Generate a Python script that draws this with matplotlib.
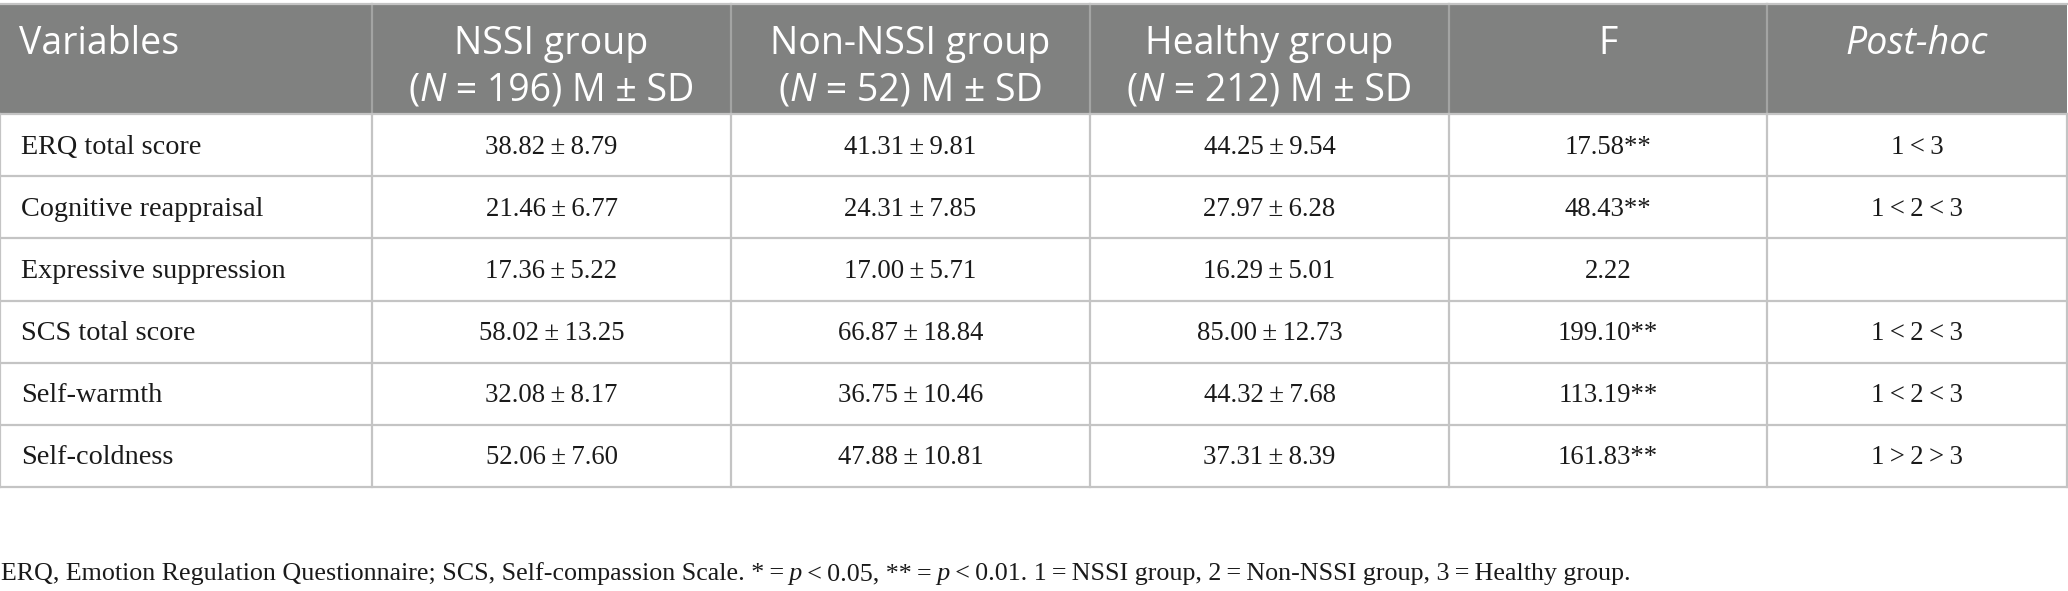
import matplotlib
matplotlib.use('Agg')
import matplotlib.pyplot as plt
from matplotlib.patches import Rectangle

# table content
variables = ['ERQ total score', 'Cognitive reappraisal', 'Expressive suppression',
             'SCS total score', 'Self-warmth', 'Self-coldness']
nssi_mean = [38.82, 21.46, 17.36, 58.02, 32.08, 52.06]
nssi_sd = [8.79, 6.77, 5.22, 13.25, 8.17, 7.60]
non_nssi_mean = [41.31, 24.31, 17.00, 66.87, 36.75, 47.88]
non_nssi_sd = [9.81, 7.85, 5.71, 18.84, 10.46, 10.81]
healthy_mean = [44.25, 27.97, 16.29, 85.00, 44.32, 37.31]
healthy_sd = [9.54, 6.28, 5.01, 12.73, 7.68, 8.39]
f_values = [17.58, 48.43, 2.22, 199.10, 113.19, 161.83]
f_sig = ['**', '**', '', '**', '**', '**']
post_hoc = ['1 < 3', '1 < 2 < 3', '', '1 < 2 < 3', '1 < 2 < 3', '1 > 2 > 3']

group_names = ['NSSI group', 'Non-NSSI group', 'Healthy group']
group_n = [196, 52, 212]

footnote = [
    ('ERQ, Emotion Regulation Questionnaire; SCS, Self-compassion Scale. *\u2009=', 'normal'),
    ('\u2009p', 'italic'),
    ('\u2009<\u20090.05, **\u2009=', 'normal'),
    ('\u2009p', 'italic'),
    ('\u2009<\u20090.01. 1\u2009=\u2009NSSI group, 2\u2009=\u2009Non-NSSI group, 3\u2009=\u2009Healthy group.', 'normal'),
]

# layout (pixels)
W, H = 2068, 591
col_edges = [0, 372, 731, 1090, 1449, 1767, 2067]
head_top, head_bot, table_bot = 4, 114, 487

header_bg = '#808180'
header_sep = '#a3a4a3'
grid = '#c4c4c4'
sans = ['Open Sans', 'DejaVu Sans']
serif = ['Liberation Serif', 'DejaVu Serif']

fig = plt.figure(figsize=(W / 100, H / 100), dpi=100)
ax = fig.add_axes([0, 0, 1, 1])
ax.set_xlim(0, W)
ax.set_ylim(H, 0)
ax.axis('off')
renderer = fig.canvas.get_renderer()


def draw_runs(runs, x, y, ha='left', **kw):
    texts = [ax.text(0, y, s, style=st, ha='left', va='baseline', **kw) for s, st in runs]
    widths = [t.get_window_extent(renderer).width for t in texts]
    pos = x - sum(widths) / 2 if ha == 'center' else x
    for t, w in zip(texts, widths):
        t.set_x(pos)
        pos += w


# header block
ax.add_patch(Rectangle((col_edges[0], head_top), col_edges[-1] - col_edges[0],
                       head_bot - head_top, color=header_bg, lw=0, zorder=0))
for x in col_edges[1:-1]:
    ax.plot([x, x], [head_top, head_bot], color=header_sep, lw=1.6, zorder=1)

hdr_kw = dict(color='white', fontsize=27, family=sans)
line1, line2 = 54, 101
ax.text(19, line1, 'Variables', ha='left', va='baseline', **hdr_kw)
for i, (name, n) in enumerate(zip(group_names, group_n)):
    cx = (col_edges[i + 1] + col_edges[i + 2]) / 2
    ax.text(cx, line1, name, ha='center', va='baseline', **hdr_kw)
    draw_runs([('(', 'normal'), ('N', 'italic'), (' = %d) M ± SD' % n, 'normal')],
              cx, line2, ha='center', **hdr_kw)
ax.text((col_edges[4] + col_edges[5]) / 2, line1, 'F', ha='center', va='baseline', **hdr_kw)
ax.text((col_edges[5] + col_edges[6]) / 2, line1, 'Post-hoc', ha='center', va='baseline',
        style='italic', **hdr_kw)

# body rows
n_rows = len(variables)
row_h = (table_bot - head_bot) / n_rows
body_kw = dict(color='#1a1a1a', fontsize=19.3, family=serif)
means = [nssi_mean, non_nssi_mean, healthy_mean]
sds = [nssi_sd, non_nssi_sd, healthy_sd]
for r in range(n_rows):
    cy = head_bot + (r + 0.5) * row_h + 2
    ax.text(21, cy, variables[r], ha='left', va='center',
            **{**body_kw, 'fontsize': 20.3})
    for g in range(3):
        cx = (col_edges[g + 1] + col_edges[g + 2]) / 2
        ax.text(cx, cy, '%.2f\u2009±\u2009%.2f' % (means[g][r], sds[g][r]),
                ha='center', va='center', **body_kw)
    ax.text((col_edges[4] + col_edges[5]) / 2, cy, '%.2f%s' % (f_values[r], f_sig[r]),
            ha='center', va='center', **body_kw)
    ax.text((col_edges[5] + col_edges[6]) / 2, cy, post_hoc[r].replace(' ', '\u2009'),
            ha='center', va='center', **body_kw)

# grid lines
for r in range(n_rows + 1):
    y = head_bot + r * row_h
    ax.plot([col_edges[0], col_edges[-1]], [y, y], color=grid, lw=1.6, zorder=2)
for x in col_edges:
    ax.plot([x, x], [head_bot, table_bot], color=grid, lw=1.6, zorder=2)
ax.plot([col_edges[0], col_edges[-1]], [head_top, head_top], color=grid, lw=1.6, zorder=2)

draw_runs(footnote, 1, 580, ha='left', color='#1a1a1a', fontsize=18.7, family=serif)

fig.savefig('out.png', dpi=100)
